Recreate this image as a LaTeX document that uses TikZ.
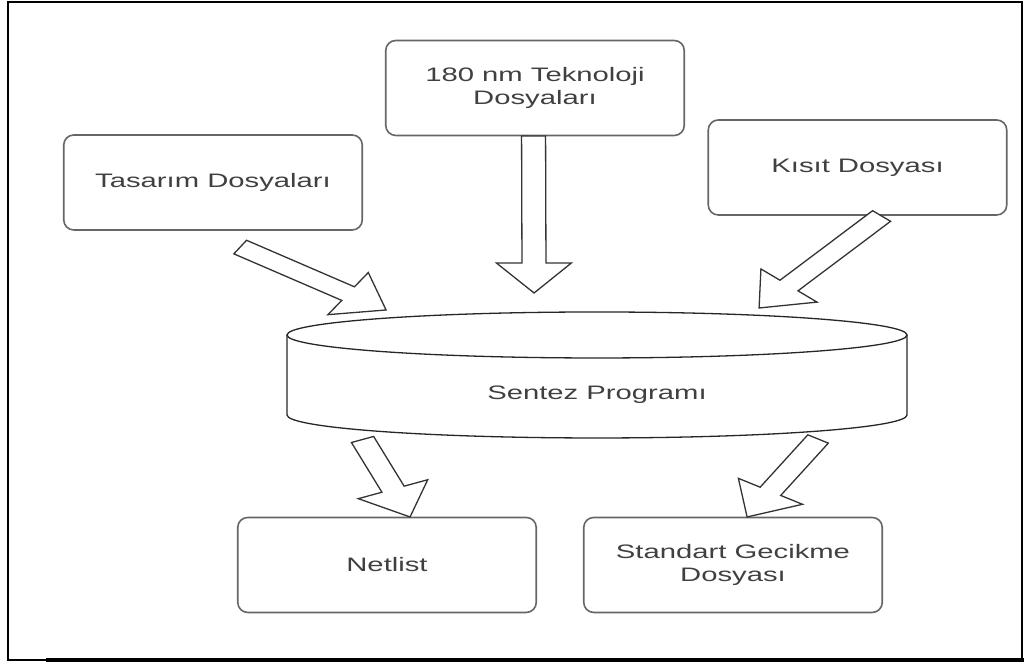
\documentclass[tikz,border=0pt]{standalone}
\usepackage{fontspec}
\setmainfont{Liberation Sans}
\usepackage{tikz}
\usetikzlibrary{calc}

\begin{document}
\begin{tikzpicture}[x=0.6667pt, y=1pt, xscale=1.5, transform shape,
    box/.style={draw=black!60, line width=1.6pt, rounded corners=10pt, fill=white,
        minimum width=199pt, minimum height=95pt, align=center, text=black!75,
        font=\fontsize{19.5}{23}\selectfont},
    lbl/.style={text=black!75, font=\fontsize{19.5}{23}\selectfont},
    cyl/.style={draw=black!85, line width=1.3pt},
    hollow/.style={draw=black!80, line width=1.3pt, line join=miter, fill=white}]
    \useasboundingbox (0,0) rectangle (1024,664);

    % === FRAME ===
    \draw[line width=1.5pt] (8,4) rectangle (1022,662);
    \draw[line width=4pt] (46,4) -- (1024,4);

    % === INPUT FILES ===
    \node[box] (tasarim) at (213,481.5) {Tasarım Dosyaları};
    \node[box] (tekno) at (535,576) {180 nm Teknoloji\\Dosyaları};
    \node[box] (kisit) at (857.5,496.5) {Kısıt Dosyası};

    % === SYNTHESIS TOOL (cylinder) ===
    \draw[cyl] (597,329) ellipse [x radius=310, y radius=23];
    \draw[cyl] (287,329) -- (287,249) arc[start angle=180, end angle=360, x radius=310, y radius=23] -- (907,329);
    \node[lbl] (sentez) at (597,269) {Sentez Programı};

    % === OUTPUT FILES ===
    \node[box] (netlist) at (387,99) {Netlist};
    \node[box] (gecikme) at (733,99) {Standart Gecikme\\Dosyası};

    % Arrow ends
    \coordinate (in1) at (240,417);    \coordinate (to1) at (386,354);
    \coordinate (in2) at (533.5,528);  \coordinate (to2) at (534,371);
    \coordinate (in3) at (881.5,448);  \coordinate (to3) at (759,356);
    \coordinate (out1) at (362.5,224.5); \coordinate (to4) at (410,147);
    \coordinate (out2) at (818,225);   \coordinate (to5) at (747,147);

    % Block arrows (shaft 16, head 50 x 30)
    \foreach \s/\e in {in1/to1, in2/to2, in3/to3, out1/to4, out2/to5}
        \draw[hollow] let \p1=($(\e)-(\s)$), \n1={atan2(\y1,\x1)}, \n2={veclen(\x1,\y1)} in
            (\s) ++(\n1+90:8pt) -- ++(\n1:{\n2-30pt}) -- ++(\n1+90:17pt) -- (\e)
            -- ++(\n1+219.81:39.05pt) -- ++(\n1+90:17pt) -- ++(\n1+180:{\n2-30pt}) -- cycle;
\end{tikzpicture}
\end{document}
